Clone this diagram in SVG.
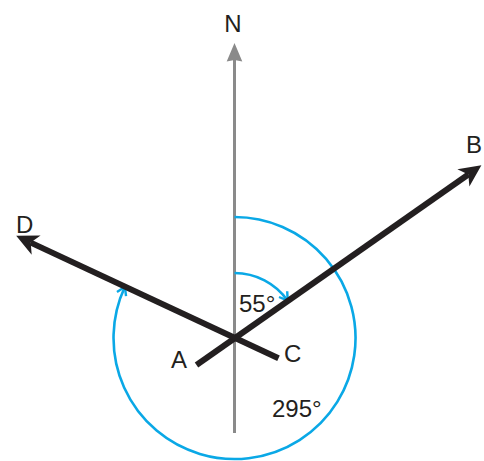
<svg xmlns="http://www.w3.org/2000/svg" width="484" height="461" viewBox="0 0 484 461">
<defs>
<style>
.lbl{font-family:"Liberation Sans","Open Sans",Arial,sans-serif;font-size:24px;fill:#231f20}
.blk{stroke:#231f20;stroke-width:6;fill:none}
.gry{stroke:#8a8a8a;stroke-width:3;fill:none}
.blu{stroke:#0aa8e6;stroke-width:2.6;fill:none}
</style>
<marker id="ab" markerUnits="userSpaceOnUse" markerWidth="40" markerHeight="40" refX="0" refY="0" orient="auto" overflow="visible" viewBox="-20 -20 40 40">
<path d="M16,0 L-6,-10.5 L0,0 L-6,10.5 Z" fill="#231f20"/>
</marker>
<marker id="ag" markerUnits="userSpaceOnUse" markerWidth="40" markerHeight="40" refX="0" refY="0" orient="auto" overflow="visible" viewBox="-20 -20 40 40">
<path d="M17,0 L-1.5,-7.8 L0,0 L-1.5,7.8 Z" fill="#8a8a8a"/>
</marker>
<marker id="av" markerUnits="userSpaceOnUse" markerWidth="30" markerHeight="30" refX="0" refY="0" orient="auto" overflow="visible" viewBox="-15 -15 30 30">
<path d="M-8,-5 L0,0 L-8,5" fill="none" stroke="#0aa8e6" stroke-width="2.4" stroke-linejoin="miter"/>
</marker>
</defs>
<g id="connectors">
<line id="north" class="gry" x1="234.5" y1="433" x2="234.5" y2="60" marker-end="url(#ag)"/>
<path id="arc55" class="blu" d="M234.5,273 A65,65 0 0 1 287.7,300.7" marker-end="url(#av)"/>
<path id="arc295" class="blu" d="M234.5,217 A121,121 0 1 1 124.9,286.8" marker-end="url(#av)"/>
<line id="AB" class="blk" x1="196.5" y1="365" x2="468.3" y2="174.5" marker-end="url(#ab)"/>
<line id="CD" class="blk" x1="278.5" y1="358.3" x2="30.7" y2="242.6" marker-end="url(#ab)"/>
</g>
<g id="node-N"><text class="lbl" x="233" y="32" text-anchor="middle">N</text></g>
<g id="node-B"><text class="lbl" x="466" y="153">B</text></g>
<g id="node-D"><text class="lbl" x="16" y="233">D</text></g>
<g id="node-A"><text class="lbl" x="171" y="368">A</text></g>
<g id="node-C"><text class="lbl" x="284" y="362">C</text></g>
<g id="angle-55"><text class="lbl" x="239" y="312">55°</text></g>
<g id="angle-295"><text class="lbl" x="272" y="417">295°</text></g>
</svg>
